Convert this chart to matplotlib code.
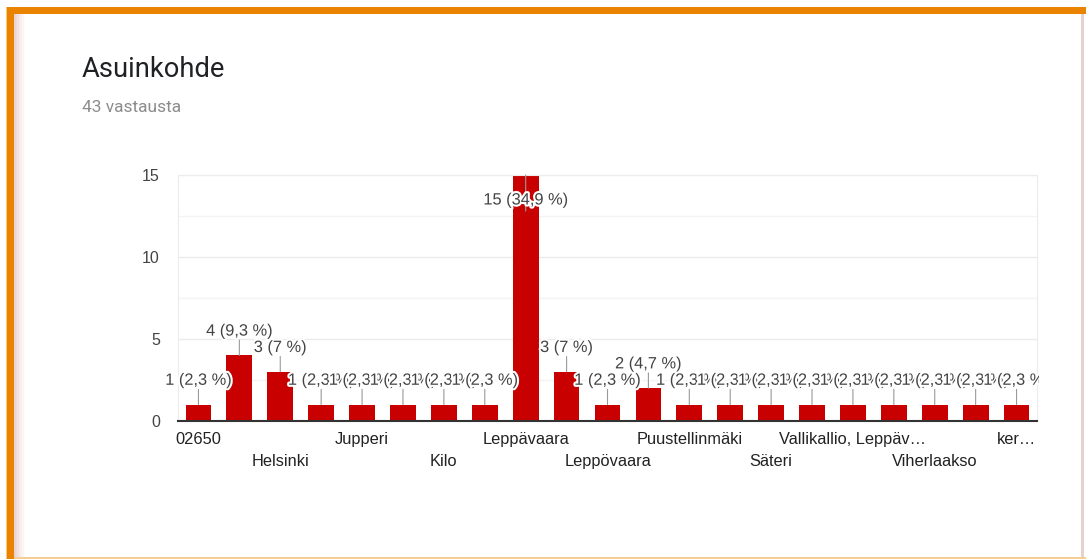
import matplotlib.pyplot as plt
import matplotlib.patheffects as pe
from matplotlib.patches import Rectangle
from matplotlib.transforms import Bbox, TransformedBbox

plt.rcParams['font.family'] = ['Roboto', 'DejaVu Sans']
CHART_FONT = ['Liberation Sans', 'DejaVu Sans']

title = 'Asuinkohde'
subtitle = '43 vastausta'

# only every other category name is visible on the chart
categories = ['02650', '', 'Helsinki', '', 'Jupperi', '', 'Kilo', '',
              'Leppävaara', '', 'Leppövaara', '', 'Puustellinmäki', '',
              'Säteri', '', 'Vallikallio, Leppäv…', '', 'Viherlaakso', '',
              'ker…']
counts = [1, 4, 3, 1, 1, 1, 1, 1, 15, 3, 1, 2, 1, 1, 1, 1, 1, 1, 1, 1, 1]
yticks = [0, 5, 10, 15]

W, H = 1086, 559
BAR = '#c80000'


def px(x, y):
    # pixel coords (top-left origin) -> figure fraction
    return x / W, 1 - y / H


fig = plt.figure(figsize=(W / 100, H / 100), dpi=100)
fig.patch.set_facecolor('white')

# frame of the card
def rect(x0, y0, x1, y1, color):
    fig.add_artist(Rectangle((x0 / W, 1 - y1 / H), (x1 - x0) / W, (y1 - y0) / H,
                             transform=fig.transFigure, color=color, lw=0, zorder=0))

shade = ['#ecd3d3', '#efdada', '#f2e1e1', '#f5e8e8', '#f8efef', '#fbf5f5', '#fdfafa']
for i, c in enumerate(shade):
    rect(14 + i * 1.6, 14, 14 + (i + 1) * 1.6, H, c)
rect(1081, 14, 1084, H, '#e6d0d0')
rect(14, 557, W, H, '#f8cd94')
rect(6, 7, 7, H, '#f6c680')
rect(7, 7, W, 14, '#e98300')
rect(7, 7, 14, H, '#e98300')

fig.text(*px(82, 77), title, fontsize=19.7, color='#202124', va='baseline')
fig.text(*px(82, 112), subtitle, fontsize=12.5, color='#8c8c8c', va='baseline')

l, t, r, b = 178, 175, 1037, 421
ax = fig.add_axes([l / W, 1 - b / H, (r - l) / W, (b - t) / H])
x = list(range(len(counts)))
ax.bar(x, counts, width=0.63, color=BAR, zorder=2)
ax.set_xlim(-0.5, len(counts) - 0.5)
ax.set_ylim(0, max(counts))

ax.set_yticks(yticks)
ax.set_yticks([2.5, 7.5, 12.5], minor=True)
ax.tick_params(axis='y', which='both', length=0, pad=13, labelsize=11.5, labelcolor='#444444')
for tl in ax.get_yticklabels():
    tl.set_family(CHART_FONT)
ax.set_xticks([])
ax.grid(axis='y', which='major', color='#ebebeb', lw=1, zorder=0)
ax.grid(axis='y', which='minor', color='#f4f4f4', lw=1, zorder=0)
for s in ['left', 'right', 'top']:
    ax.spines[s].set_color('#ececec')
ax.spines['bottom'].set_color('#333333')
ax.spines['bottom'].set_linewidth(1.5)
ax.spines['bottom'].set_zorder(5)

# category labels on two alternating rows
for i, name in enumerate(categories):
    if not name:
        continue
    row = (i // 2) % 2
    ax.annotate(name, (i, 0), xycoords=('data', 'axes fraction'),
                xytext=(0, -13 - row * 16.5), textcoords='offset points',
                ha='center', va='center', fontsize=11.8, color='#222222',
                family=CHART_FONT)

# value labels with leader lines
clip = TransformedBbox(Bbox([[0, 0], [(r + 2) / W, 1]]), fig.transFigure)
total = sum(counts)
top = max(counts)
for i, v in enumerate(counts):
    pct = round(v / total * 100, 1)
    ps = ('%.1f' % pct).rstrip('0').rstrip('.').replace('.', ',')
    lab = '%d (%s %%)' % (v, ps)
    if v == top:
        ax.annotate('', (i, v), xytext=(0, -26), textcoords='offset points',
                    arrowprops=dict(arrowstyle='-', color='#9a9a9a', lw=0.8,
                                    shrinkA=0, shrinkB=0), zorder=3)
        off = -18
    else:
        ax.annotate('', (i, v), xytext=(0, 11), textcoords='offset points',
                    arrowprops=dict(arrowstyle='-', color='#9a9a9a', lw=0.8,
                                    shrinkA=0, shrinkB=0), zorder=3)
        off = 17.5
    tx = ax.annotate(lab, (i, v), xytext=(0, off), textcoords='offset points',
                     ha='center', va='center', fontsize=11.8, color='#444444',
                     family=CHART_FONT, zorder=10 + i, annotation_clip=False,
                     path_effects=[pe.withStroke(linewidth=3, foreground='white')])
    tx.set_clip_box(clip)
    tx.set_clip_on(True)

fig.savefig('out.png', dpi=100)
